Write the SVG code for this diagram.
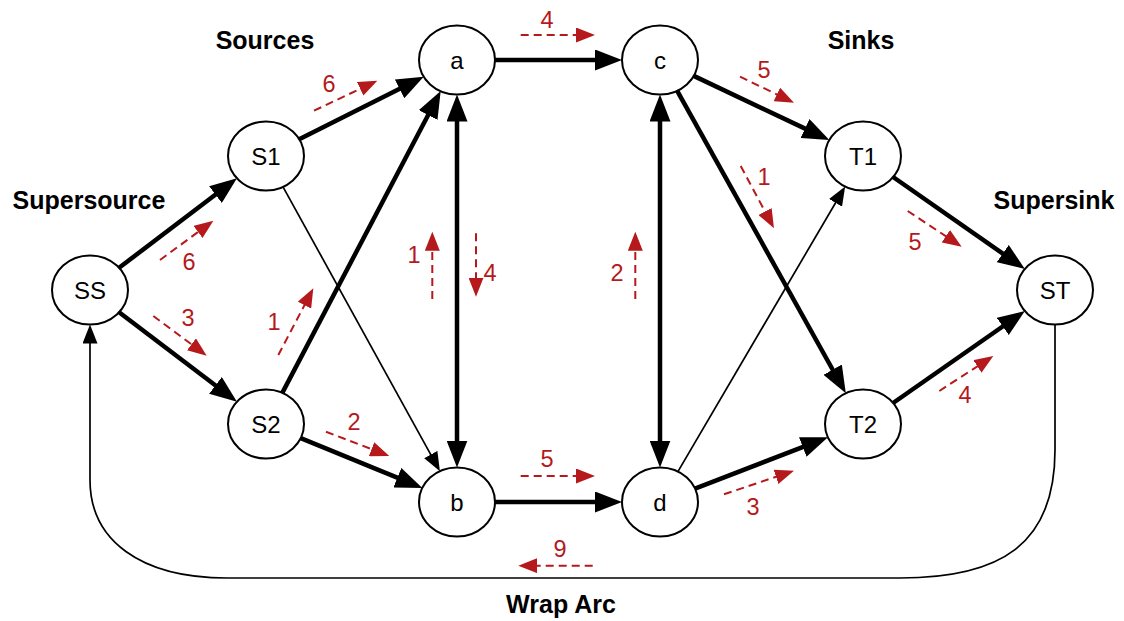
<svg xmlns="http://www.w3.org/2000/svg" width="1124" height="621" viewBox="0 0 1124 621">
  <style>
    .node ellipse { fill: #ffffff; stroke: #000000; stroke-width: 2; }
    .node text { font-family: "Liberation Sans", Arial, sans-serif; font-size: 24px; fill: #000000; text-anchor: middle; }
    .title { font-family: "Liberation Sans", Arial, sans-serif; font-size: 25px; font-weight: bold; fill: #000000; text-anchor: middle; }
    .thick { stroke: #000000; stroke-width: 4.5; fill: none; marker-end: url(#arrowThick); }
    .thin { stroke: #000000; stroke-width: 1.7; fill: none; marker-end: url(#arrowThin); }
    .both { marker-start: url(#arrowThick); }
    .flow { stroke: #b5191c; stroke-width: 2; stroke-dasharray: 8 5; fill: none; marker-end: url(#arrowFlow); }
    .flowlabel { font-family: "Liberation Sans", Arial, sans-serif; font-size: 23.5px; fill: #b5191c; text-anchor: middle; }
  </style>
  <defs>
    <marker id="arrowThick" viewBox="0 0 27 21" refX="13" refY="10.5" markerWidth="27" markerHeight="21" markerUnits="userSpaceOnUse" orient="auto-start-reverse">
      <path d="M0,0 L27,10.5 L0,21 Z" fill="#000000"/>
    </marker>
    <marker id="arrowThin" viewBox="0 0 19 15" refX="10" refY="7.5" markerWidth="19" markerHeight="15" markerUnits="userSpaceOnUse" orient="auto">
      <path d="M0,0 L19,7.5 L0,15 Z" fill="#000000"/>
    </marker>
    <marker id="arrowFlow" viewBox="0 0 19 15" refX="11" refY="7.5" markerWidth="19" markerHeight="15" markerUnits="userSpaceOnUse" orient="auto">
      <path d="M0,0 L19,7.5 L0,15 Z" fill="#b5191c"/>
    </marker>
  </defs>

  <!-- section titles -->
  <text class="title" x="89" y="209">Supersource</text>
  <text class="title" x="265" y="49">Sources</text>
  <text class="title" x="861" y="49">Sinks</text>
  <text class="title" x="1054" y="209">Supersink</text>
  <text class="title" x="561" y="613">Wrap Arc</text>

  <!-- capacity edges -->
  <g id="edges">
    <line class="thick" x1="119.1" y1="267.8" x2="225.8" y2="186.7"/>
    <line class="thick" x1="119.1" y1="312.2" x2="225.8" y2="393.3"/>
    <line class="thick" x1="299.2" y1="139.3" x2="411.2" y2="83.0"/>
    <line class="thick" x1="282.3" y1="392.9" x2="434.2" y2="103.5"/>
    <line class="thin" x1="283.0" y1="186.8" x2="435.6" y2="463.3"/>
    <line class="thick" x1="300.7" y1="438.2" x2="409.4" y2="482.6"/>
    <line class="thick" x1="495" y1="60" x2="608" y2="60"/>
    <line class="thick both" x1="457" y1="108.5" x2="457" y2="453.5"/>
    <line class="thick both" x1="660" y1="108.5" x2="660" y2="453.5"/>
    <line class="thick" x1="495" y1="502" x2="608" y2="502"/>
    <line class="thick" x1="693.7" y1="75.9" x2="816.7" y2="134.1"/>
    <line class="thick" x1="677.2" y1="90.8" x2="839.0" y2="381.0"/>
    <line class="thin" x1="677.9" y1="471.6" x2="840.6" y2="194.2"/>
    <line class="thick" x1="695.0" y1="488.6" x2="814.9" y2="442.4"/>
    <line class="thick" x1="893.1" y1="177.0" x2="1013.4" y2="261.0"/>
    <line class="thick" x1="893.1" y1="403.0" x2="1013.4" y2="319.0"/>
    <!-- wrap arc from ST back to SS -->
    <path class="thin" d="M1055,324.5 L1055,450 C1055,545 1000,578 900,578 L227,578 C140,578 90,540 90,480 L90,333.5"/>
  </g>

  <!-- flow amounts -->
  <g id="flows">
    <path class="flow" d="M160,260 L206.9,225.5"/>
    <text class="flowlabel" x="189" y="270">6</text>
    <path class="flow" d="M153.3,316 L200.3,350.9"/>
    <text class="flowlabel" x="188" y="326">3</text>
    <path class="flow" d="M278.3,355 L309.6,295.4"/>
    <text class="flowlabel" x="274" y="330">1</text>
    <path class="flow" d="M314,110.7 L370.1,84.1"/>
    <text class="flowlabel" x="329" y="92">6</text>
    <path class="flow" d="M326,431.7 L381.8,453.1"/>
    <text class="flowlabel" x="354" y="430">2</text>
    <path class="flow" d="M520.7,35 L587,35"/>
    <text class="flowlabel" x="547" y="28">4</text>
    <path class="flow" d="M432.3,299 L432.3,239.7"/>
    <text class="flowlabel" x="414" y="263">1</text>
    <path class="flow" d="M476,233.3 L476,288.7"/>
    <text class="flowlabel" x="490" y="281">4</text>
    <path class="flow" d="M635.3,299 L635.3,239.7"/>
    <text class="flowlabel" x="617" y="281">2</text>
    <path class="flow" d="M520.7,476 L587,476"/>
    <text class="flowlabel" x="547" y="467">5</text>
    <path class="flow" d="M592.7,565.7 L526.3,565.7"/>
    <text class="flowlabel" x="560" y="557">9</text>
    <path class="flow" d="M740,76.7 L786.8,99.2"/>
    <text class="flowlabel" x="764" y="78">5</text>
    <path class="flow" d="M740.7,166 L770.2,221.2"/>
    <text class="flowlabel" x="764" y="185">1</text>
    <path class="flow" d="M724,494.3 L786.4,473.3"/>
    <text class="flowlabel" x="753" y="515">3</text>
    <path class="flow" d="M907.7,211 L955.0,242.3"/>
    <text class="flowlabel" x="915" y="250">5</text>
    <path class="flow" d="M939.3,391 L986.6,360.4"/>
    <text class="flowlabel" x="965" y="403">4</text>
  </g>

  <!-- nodes -->
  <g id="node-SS" class="node"><ellipse cx="90" cy="290" rx="38" ry="34.5"/><text x="90" y="298.5">SS</text></g>
  <g id="node-S1" class="node"><ellipse cx="266" cy="156" rx="38" ry="34.5"/><text x="266" y="164.5">S1</text></g>
  <g id="node-S2" class="node"><ellipse cx="266" cy="424" rx="38" ry="34.5"/><text x="266" y="432.5">S2</text></g>
  <g id="node-a" class="node"><ellipse cx="457" cy="60" rx="38" ry="34.5"/><text x="457" y="68.5">a</text></g>
  <g id="node-c" class="node"><ellipse cx="660" cy="60" rx="38" ry="34.5"/><text x="660" y="68.5">c</text></g>
  <g id="node-b" class="node"><ellipse cx="457" cy="502" rx="38" ry="34.5"/><text x="457" y="510.5">b</text></g>
  <g id="node-d" class="node"><ellipse cx="660" cy="502" rx="38" ry="34.5"/><text x="660" y="510.5">d</text></g>
  <g id="node-T1" class="node"><ellipse cx="863" cy="156" rx="38" ry="34.5"/><text x="863" y="164.5">T1</text></g>
  <g id="node-T2" class="node"><ellipse cx="863" cy="424" rx="38" ry="34.5"/><text x="863" y="432.5">T2</text></g>
  <g id="node-ST" class="node"><ellipse cx="1055" cy="290" rx="38" ry="34.5"/><text x="1055" y="298.5">ST</text></g>
</svg>
